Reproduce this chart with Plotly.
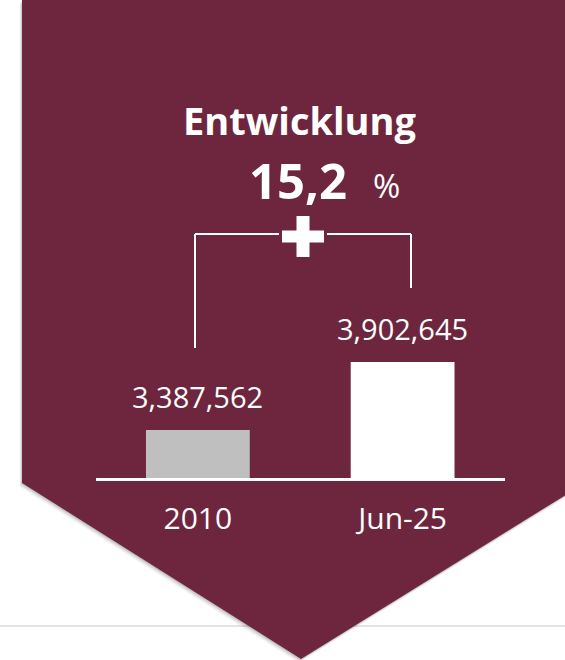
import plotly.graph_objects as go

# ---- data ----
categories = ["2010", "Jun-25"]
values = [3387562, 3902645]
bar_colors = ["#BFBFBF", "#FFFFFF"]
title_text = "Entwicklung"
change_text = "15,2"
change_unit = "%"

W, H = 565, 660
MAROON = "#6D263D"
FONT = "Open Sans"


def px(x):
    return x / W


def py(y):
    return 1 - y / H


def path(points):
    s = "M" + " L".join(f"{px(x):.5f},{py(y):.5f}" for x, y in points) + " Z"
    return s


fig = go.Figure()

fig.add_trace(go.Bar(
    x=categories,
    y=values,
    marker=dict(color=bar_colors, line=dict(width=0)),
    width=0.507,
    hoverinfo="skip",
))

shapes = []
# faint horizontal divider
shapes.append(dict(type="line", xref="paper", yref="paper",
                   x0=0, x1=1, y0=py(626), y1=py(626),
                   line=dict(color="#E4E4E4", width=2), layer="below"))
pent = [(22, 0), (585, 0), (585, 483), (301, 659), (22, 483)]
# soft shadow
for off, a in [(4, 0.04), (3, 0.05), (2, 0.07), (1, 0.09)]:
    sp = [(x - off * 0.6, y + off) for x, y in pent]
    shapes.append(dict(type="path", xref="paper", yref="paper", path=path(sp),
                       fillcolor=f"rgba(0,0,0,{a})", line=dict(width=0), layer="below"))
shapes.append(dict(type="path", xref="paper", yref="paper", path=path(pent),
                   fillcolor=MAROON, line=dict(width=0), layer="below"))

# bracket
def seg(x0, y0, x1, y1):
    return dict(type="line", xref="paper", yref="paper",
                x0=px(x0), y0=py(y0), x1=px(x1), y1=py(y1),
                line=dict(color="white", width=2), layer="above")

shapes += [seg(195, 234, 195, 348), seg(195, 234, 279, 234),
           seg(327, 234, 411, 234), seg(411, 234, 411, 288)]

# plus sign
def rect(x0, y0, x1, y1):
    return dict(type="rect", xref="paper", yref="paper",
                x0=px(x0), y0=py(y0), x1=px(x1), y1=py(y1),
                fillcolor="white", line=dict(width=0), layer="above")

shapes += [rect(296.5, 216, 309.5, 257), rect(282, 230.5, 324, 242.5)]

annotations = [
    dict(text=f"<b>{title_text}</b>", xref="paper", yref="paper",
         x=px(300), y=py(120), xanchor="center", yanchor="middle", showarrow=False,
         font=dict(family=FONT, size=38, color="white")),
    dict(text=f"<b>{change_text}</b>", xref="paper", yref="paper",
         x=px(298), y=py(180), xanchor="center", yanchor="middle", showarrow=False,
         font=dict(family=FONT, size=49, color="white")),
    dict(text=change_unit, xref="paper", yref="paper",
         x=px(386), y=py(186), xanchor="center", yanchor="middle", showarrow=False,
         font=dict(family=FONT, size=33, color="white")),
]
for i, v in enumerate(values):
    annotations.append(dict(text=f"{v:,}", x=i, y=v, xref="x", yref="y",
                            xanchor="center", yanchor="bottom", yshift=12,
                            showarrow=False,
                            font=dict(family=FONT, size=29, color="white")))

y_min = 3023900
y_max = 4372385

fig.update_layout(
    width=W, height=H,
    margin=dict(l=0, r=0, t=0, b=0),
    paper_bgcolor="white",
    plot_bgcolor="rgba(0,0,0,0)",
    showlegend=False,
    shapes=shapes,
    annotations=annotations,
    xaxis=dict(domain=[px(95.5), px(505)], range=[-0.5, 1.5], type="category",
               showline=True, linecolor="white", linewidth=3,
               showgrid=False, zeroline=False,
               ticks="outside", ticklen=12, tickcolor="rgba(0,0,0,0)",
               tickfont=dict(family=FONT, size=30, color="white")),
    yaxis=dict(domain=[py(478), py(300)], range=[y_min, y_max],
               visible=False, showgrid=False, zeroline=False),
)

fig.write_html("out.html",
               config={"displayModeBar": False},
               post_script="document.body.style.margin='0';document.body.style.overflow='hidden';")
